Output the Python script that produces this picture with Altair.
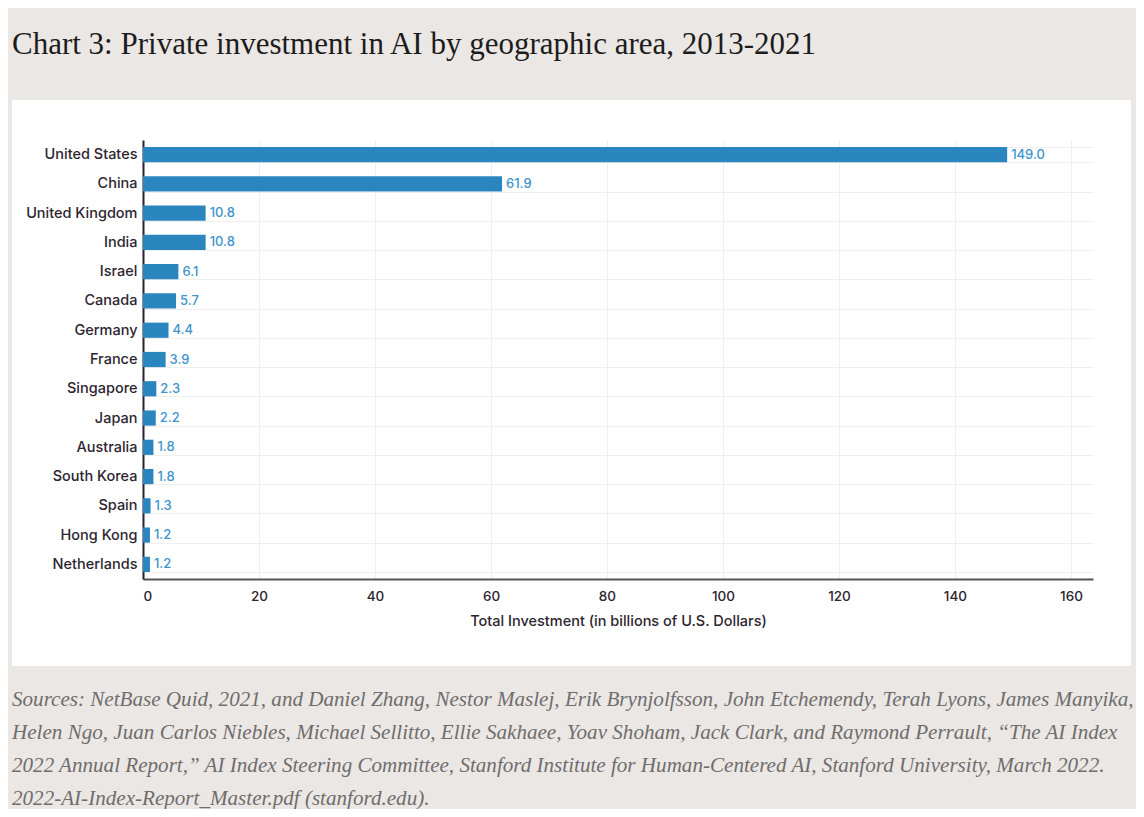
import altair as alt
import pandas as pd

countries = ["United States", "China", "United Kingdom", "India", "Israel", "Canada",
             "Germany", "France", "Singapore", "Japan", "Australia", "South Korea",
             "Spain", "Hong Kong", "Netherlands"]
values = [149.0, 61.9, 10.8, 10.8, 6.1, 5.7, 4.4, 3.9, 2.3, 2.2, 1.8, 1.8, 1.3, 1.2, 1.2]
x_ticks = [0, 20, 40, 60, 80, 100, 120, 140, 160]

title_text = "Chart 3: Private investment in AI by geographic area, 2013-2021"
x_title = "Total Investment (in billions of U.S. Dollars)"
source_lines = [
    "Sources: NetBase Quid, 2021, and Daniel Zhang, Nestor Maslej, Erik Brynjolfsson, John Etchemendy, Terah Lyons, James Manyika,",
    "Helen Ngo, Juan Carlos Niebles, Michael Sellitto, Ellie Sakhaee, Yoav Shoham, Jack Clark, and Raymond Perrault, \u201cThe AI Index",
    "2022 Annual Report,\u201d AI Index Steering Committee, Stanford Institute for Human-Centered AI, Stanford University, March 2022.",
    "2022-AI-Index-Report_Master.pdf (stanford.edu).",
]

df = pd.DataFrame({"country": countries, "value": values,
                   "label": [f"{v:.1f}" for v in values]})
one = pd.DataFrame({"a": [0]})

W, H = 950, 439
PL, PT = 135, 132
BEIGE = "#ebe7e4"

def band(x1, x2, y1, y2):
    return alt.Chart(one).mark_rect(color=BEIGE).encode(
        x=alt.value(x1), x2=alt.value(x2), y=alt.value(y1), y2=alt.value(y2))

top = band(-PL - 2, W + 50, -PT - 2, -40)
bottom = band(-PL - 2, W + 50, 526, 700)
left = band(-PL - 2, -131, -PT - 2, 700)
right = band(988, W + 50, -PT - 2, 700)

title = alt.Chart(one).mark_text(
    align="left", baseline="alphabetic", font="Liberation Serif", fontSize=31,
    color="#1c1c1c").encode(x=alt.value(-131), y=alt.value(-86), text=alt.value(title_text))

source = alt.Chart(one).mark_text(
    align="left", baseline="alphabetic", font="Liberation Serif", fontStyle="italic",
    fontSize=21.1, color="#6f6d6d", lineBreak="\n", lineHeight=33).encode(
    x=alt.value(-131), y=alt.value(566), text=alt.value("\n".join(source_lines)))

yenc = alt.Y("country:N", sort=countries,
             scale=alt.Scale(paddingInner=0.48, paddingOuter=0.24),
             axis=alt.Axis(title=None, ticks=False, grid=True, tickBand="extent",
                           gridColor="#f1eeee", domainColor="#2a2030", domainWidth=2,
                           labelFont="Inter", labelFontSize=14.5, labelFontWeight=500,
                           labelColor="#2d2530", labelPadding=6))
xenc = alt.X("value:Q", scale=alt.Scale(domain=[0, 163.8], nice=False, zero=True),
             axis=alt.Axis(values=x_ticks, title=x_title, ticks=False, grid=True,
                           gridColor="#f1eeee", domainColor="#5a5058", domainWidth=2,
                           labelFont="Inter", labelFontSize=13.5, labelFontWeight=500,
                           labelColor="#2d2530", labelPadding=10, titleFont="Inter",
                           titleFontSize=14.5, titleFontWeight=500, titleColor="#2d2530",
                           titlePadding=12))

bars = alt.Chart(df).mark_bar(color="#2b86c0").encode(x=xenc, y=yenc)
labels = alt.Chart(df).mark_text(
    align="left", baseline="middle", dx=4, font="Inter", fontSize=13,
    fontWeight=500, color="#3d94cc").encode(x="value:Q", y=alt.Y("country:N", sort=countries),
                                            text="label:N")

chart = alt.layer(bars, labels, top, bottom, left, right, title, source).properties(
    width=W, height=H,
    padding={"left": PL, "top": PT, "right": 1128 - PL - W, "bottom": 801 - PT - H},
    autosize=alt.AutoSizeParams(type="none"),
    background="white",
).configure_view(stroke=None)

chart.save("out.html", embed_options={"renderer": "svg", "actions": False})
